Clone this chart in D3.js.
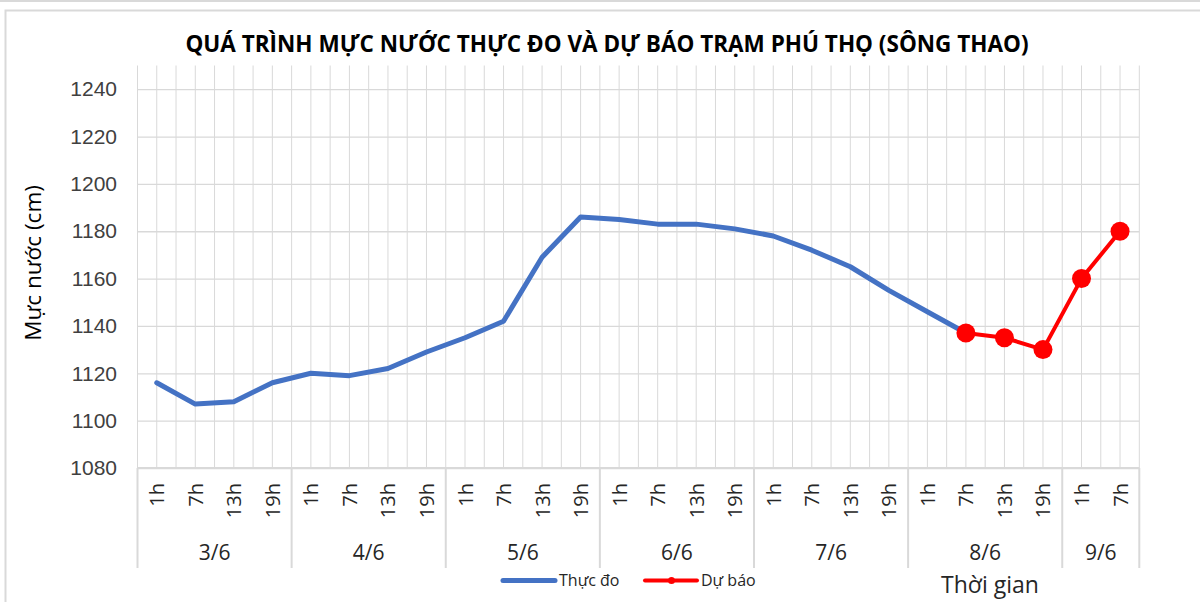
<!DOCTYPE html>
<html>
<head>
<meta charset="utf-8">
<script src="https://cdn.jsdelivr.net/npm/d3@7"></script>
<style>
  body { margin: 0; background: #fff; }
  svg { display: block; font-family: "Open Sans", "Noto Sans", sans-serif; }
</style>
</head>
<body>
<div id="chart"></div>
<script>
// hours in each day, days (groups)
const hours = ["1h", "7h", "13h", "19h"];
const days = ["3/6", "4/6", "5/6", "6/6", "7/6", "8/6", "9/6"];
const daySlots = [4, 4, 4, 4, 4, 4, 2];

// observed (Thực đo), 3/6 1h .. 8/6 7h
const thucDo = [1116, 1107, 1108, 1116, 1120, 1119, 1122, 1129, 1135, 1142, 1169, 1186,
                1185, 1183, 1183, 1181, 1178, 1172, 1165, 1155, 1146, 1137];
// forecast (Dự báo), 8/6 7h .. 9/6 7h
const duBao = [1137, 1135, 1130, 1160, 1180];

const yTicks = [1080, 1100, 1120, 1140, 1160, 1180, 1200, 1220, 1240];

// build category list
const cats = [];
days.forEach((d, i) => {
  for (let k = 0; k < daySlots[i]; k++) cats.push({ day: d, hour: hours[k] });
});
cats.forEach((c, i) => { c.i = i; });
const obsData = thucDo.map((v, i) => ({ i: i, v: v }));
const fcStart = thucDo.length - 1;
const fcData = duBao.map((v, i) => ({ i: fcStart + i, v: v }));

const w = 1200, h = 602;
const pLeft = 137.5, pRight = 1139.3, pTop = 65.5, pBottom = 468;

const svg = d3.select("#chart").append("svg")
  .attr("width", w).attr("height", h);

// outer frame
svg.append("rect").attr("x", 0).attr("y", 0).attr("width", w).attr("height", 2).attr("fill", "#d9d9d9");
svg.append("rect").attr("x", 5.5).attr("y", 10.5).attr("width", w + 10).attr("height", h + 10)
  .attr("fill", "none").attr("stroke", "#d9d9d9").attr("stroke-width", 2);

const x = d3.scaleBand().domain(cats.map(c => c.i)).range([pLeft, pRight]);
const y = d3.scaleLinear().domain([1080, 1250]).range([pBottom, pTop]);
const bw = x.bandwidth();

// vertical grid: band edges and centres
const vLines = [];
cats.forEach(c => { vLines.push(x(c.i)); vLines.push(x(c.i) + bw / 2); });
vLines.push(pRight);
svg.append("g").selectAll("line").data(vLines).join("line")
  .attr("x1", d => d).attr("x2", d => d)
  .attr("y1", pTop).attr("y2", pBottom)
  .attr("stroke", "#d9d9d9").attr("stroke-width", 1);

// horizontal grid + y labels
const yAxis = d3.axisLeft(y).tickValues(yTicks).tickFormat(d3.format("d"))
  .tickSize(-(pRight - pLeft)).tickPadding(20);
const gy = svg.append("g").attr("transform", "translate(" + pLeft + ",0)").call(yAxis);
gy.select(".domain").remove();
gy.selectAll(".tick line").attr("stroke", "#d9d9d9").attr("stroke-width", 1.3);
gy.selectAll(".tick text")
  .attr("x", 117 - pLeft)
  .style("font-size", "21px").attr("fill", "#404040");

// axis line at bottom
svg.append("line").attr("x1", pLeft).attr("x2", pRight).attr("y1", pBottom).attr("y2", pBottom)
  .attr("stroke", "#d9d9d9").attr("stroke-width", 2);

// hour labels (rotated)
svg.append("g").selectAll("text").data(cats).join("text")
  .attr("transform", d => "translate(" + (x(d.i) + bw / 2 + 7.5) + "," + 483 + ") rotate(-90)")
  .attr("text-anchor", "end")
  .style("font-size", "20px").attr("fill", "#262626")
  .text(d => d.hour);

// day group separators & labels
const bounds = [0];
daySlots.forEach((n, i) => bounds.push(bounds[i] + n));
svg.append("g").selectAll("line").data(bounds).join("line")
  .attr("x1", d => pLeft + d * bw).attr("x2", d => pLeft + d * bw)
  .attr("y1", pBottom).attr("y2", 568)
  .attr("stroke", "#d9d9d9").attr("stroke-width", 2);
svg.append("g").selectAll("text").data(days).join("text")
  .attr("x", (d, i) => pLeft + (bounds[i] + bounds[i + 1]) / 2 * bw)
  .attr("y", 560)
  .attr("text-anchor", "middle")
  .style("font-size", "21px").attr("fill", "#262626")
  .text(d => d);

// lines
const line = d3.line().x(d => x(d.i) + bw / 2).y(d => y(d.v));
svg.append("path").datum(obsData).attr("d", line)
  .attr("fill", "none").attr("stroke", "#4472c4").attr("stroke-width", 5)
  .attr("stroke-linejoin", "round").attr("stroke-linecap", "round");
svg.append("path").datum(fcData).attr("d", line)
  .attr("fill", "none").attr("stroke", "#ff0000").attr("stroke-width", 4)
  .attr("stroke-linejoin", "round");
svg.append("g").selectAll("circle").data(fcData).join("circle")
  .attr("cx", d => x(d.i) + bw / 2).attr("cy", d => y(d.v)).attr("r", 9.5)
  .attr("fill", "#ff0000");

// title
svg.append("text").attr("x", 607).attr("y", 52).attr("text-anchor", "middle")
  .style("font-size", "22.5px").style("font-weight", "bold").attr("fill", "#000")
  .text("QUÁ TRÌNH MỰC NƯỚC THỰC ĐO VÀ DỰ BÁO TRẠM PHÚ THỌ (SÔNG THAO)");

// y title
svg.append("text").attr("transform", "translate(41,263) rotate(-90)")
  .attr("text-anchor", "middle").style("font-size", "22.5px").attr("fill", "#000")
  .text("Mực nước (cm)");

// x title
svg.append("text").attr("x", 990).attr("y", 593).attr("text-anchor", "middle")
  .style("font-size", "23px").attr("fill", "#262626")
  .text("Thời gian");

// legend
const lg = svg.append("g");
lg.append("line").attr("x1", 503).attr("x2", 555).attr("y1", 580.5).attr("y2", 580.5)
  .attr("stroke", "#4472c4").attr("stroke-width", 5).attr("stroke-linecap", "round");
lg.append("text").attr("x", 559).attr("y", 586).style("font-size", "16px").attr("fill", "#262626").text("Thực đo");
lg.append("line").attr("x1", 645).attr("x2", 697).attr("y1", 580.5).attr("y2", 580.5)
  .attr("stroke", "#ff0000").attr("stroke-width", 4).attr("stroke-linecap", "round");
lg.append("circle").attr("cx", 671.5).attr("cy", 580.5).attr("r", 3.5).attr("fill", "#ff0000");
lg.append("text").attr("x", 701).attr("y", 586).style("font-size", "16px").attr("fill", "#262626").text("Dự báo");
</script>
</body>
</html>
